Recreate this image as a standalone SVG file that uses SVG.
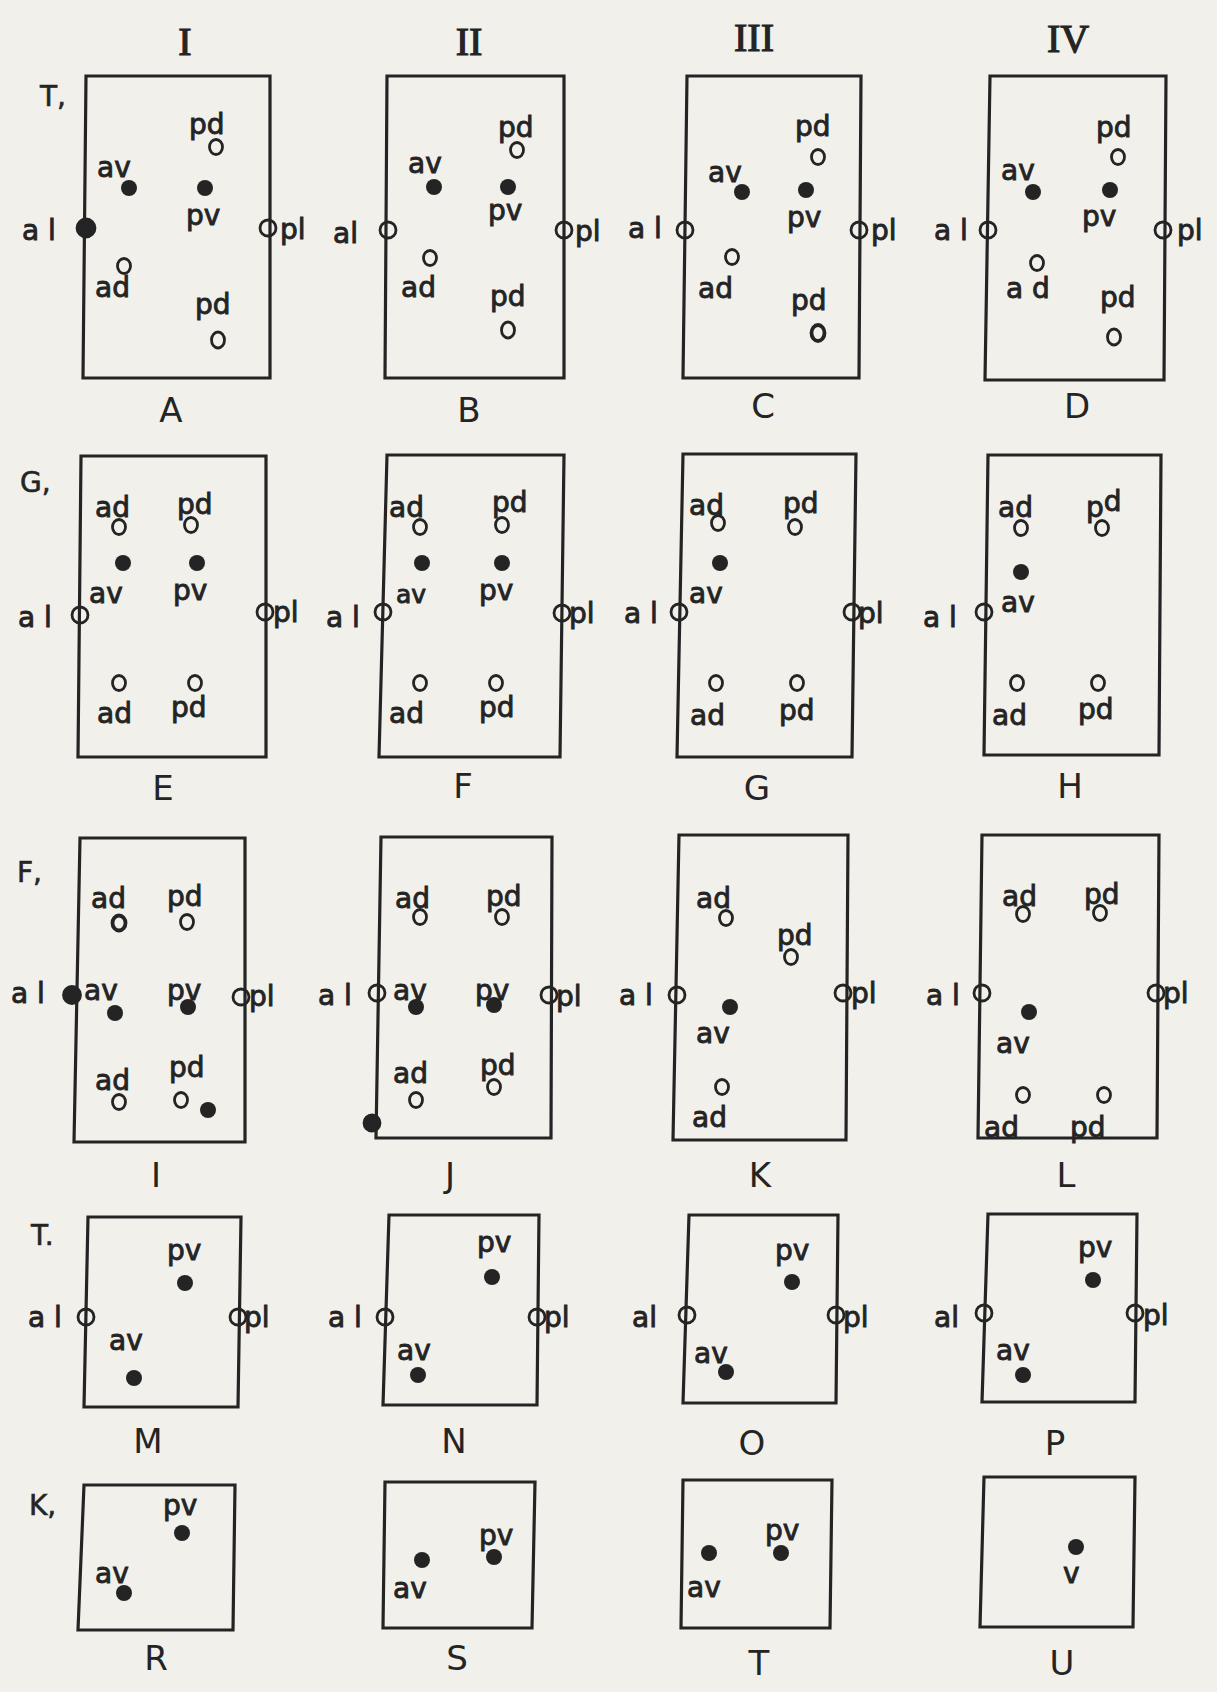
<svg xmlns="http://www.w3.org/2000/svg" width="1217" height="1692" viewBox="0 0 1217 1692">
<style>
.bg{fill:#f1f0eb}
.bx{fill:none;stroke:#242424;stroke-width:3.2;stroke-linejoin:miter}
.dot{fill:#242424}
.o{fill:none;stroke:#242424;stroke-width:2.8}
.ob{fill:none;stroke:#242424;stroke-width:3.8}
.e{fill:none;stroke:#242424;stroke-width:2.8}
.ef{fill:#242424;stroke:#242424;stroke-width:2.8}
.t{font-family:"DejaVu Sans",sans-serif;font-size:28px;fill:#242424;stroke:#242424;stroke-width:0.9}
.ts{font-family:"DejaVu Sans",sans-serif;font-size:25px;fill:#242424;stroke:#242424;stroke-width:0.9}
.lab{font-family:"DejaVu Sans",sans-serif;font-size:34px;fill:#242424;text-anchor:middle}
.row{font-family:"DejaVu Sans",sans-serif;font-size:28px;fill:#242424;stroke:#242424;stroke-width:0.6}
.rn{font-family:"Liberation Serif",serif;font-size:40px;fill:#242424;stroke:#242424;stroke-width:1.2;text-anchor:middle}
</style>
<rect class="bg" x="0" y="0" width="1217" height="1692"/>
<g id="headers">
<text class="rn" x="185" y="55">I</text>
<text class="rn" x="469" y="55">II</text>
<text class="rn" x="754" y="51">III</text>
<text class="rn" x="1068" y="52">IV</text>
<text class="row" x="40" y="106">T,</text>
<text class="row" x="20" y="492">G,</text>
<text class="row" x="17" y="882">F,</text>
<text class="row" x="31" y="1245">T.</text>
<text class="row" x="29" y="1515">K,</text>
</g>
<g id="connectors"></g>

<g id="panel-A">
<path class="bx" d="M86 76 L270 76 L270 378 L83 378 Z"/>
<circle class="ef" cx="86" cy="228" r="9"/>
<text class="t" x="22" y="240">a l</text>
<circle class="e" cx="268" cy="228" r="8"/>
<text class="t" x="280" y="239">pl</text>
<text class="t" x="97" y="177">av</text>
<circle class="dot" cx="129" cy="188" r="8"/>
<circle class="dot" cx="205" cy="188" r="8"/>
<text class="t" x="186" y="225">pv</text>
<text class="t" x="189" y="134">pd</text>
<ellipse class="o" cx="216" cy="147" rx="6.5" ry="7.5"/>
<text class="t" x="95" y="297">ad</text>
<ellipse class="o" cx="124" cy="266" rx="6.5" ry="7.5"/>
<text class="t" x="195" y="314">pd</text>
<ellipse class="o" cx="218" cy="340" rx="6.5" ry="8"/>
<text class="lab" x="171" y="422">A</text>
</g>

<g id="panel-B">
<path class="bx" d="M387 76 L564 76 L564 378 L385 378 Z"/>
<circle class="e" cx="388" cy="230" r="8"/>
<text class="t" x="333" y="243">al</text>
<circle class="e" cx="564" cy="230" r="8"/>
<text class="t" x="575" y="241">pl</text>
<text class="t" x="408" y="173">av</text>
<circle class="dot" cx="434" cy="187" r="8"/>
<circle class="dot" cx="508" cy="187" r="8"/>
<text class="t" x="488" y="220">pv</text>
<text class="t" x="498" y="137">pd</text>
<ellipse class="o" cx="517" cy="150" rx="6.5" ry="7.5"/>
<text class="t" x="401" y="297">ad</text>
<ellipse class="o" cx="430" cy="258" rx="6.5" ry="7.5"/>
<text class="t" x="490" y="306">pd</text>
<ellipse class="o" cx="508" cy="330" rx="6.5" ry="8"/>
<text class="lab" x="469" y="422">B</text>
</g>

<g id="panel-C">
<path class="bx" d="M687 76 L861 76 L859 378 L683 378 Z"/>
<circle class="e" cx="685" cy="230" r="8"/>
<text class="t" x="628" y="238">a l</text>
<circle class="e" cx="859" cy="230" r="8"/>
<text class="t" x="871" y="240">pl</text>
<text class="t" x="708" y="182">av</text>
<circle class="dot" cx="742" cy="192" r="8"/>
<circle class="dot" cx="806" cy="190" r="8"/>
<text class="t" x="787" y="227">pv</text>
<text class="t" x="795" y="136">pd</text>
<ellipse class="o" cx="818" cy="157" rx="6.5" ry="7.5"/>
<text class="t" x="698" y="298">ad</text>
<ellipse class="o" cx="732" cy="257" rx="6.5" ry="7.5"/>
<text class="t" x="791" y="310">pd</text>
<ellipse class="ob" cx="818" cy="333" rx="6.5" ry="8"/>
<text class="lab" x="763" y="418">C</text>
</g>

<g id="panel-D">
<path class="bx" d="M990 76 L1166 76 L1164 380 L985 380 Z"/>
<circle class="e" cx="988" cy="230" r="8"/>
<text class="t" x="934" y="240">a l</text>
<circle class="e" cx="1163" cy="230" r="8"/>
<text class="t" x="1177" y="240">pl</text>
<text class="t" x="1001" y="180">av</text>
<circle class="dot" cx="1033" cy="192" r="8"/>
<circle class="dot" cx="1110" cy="190" r="8"/>
<text class="t" x="1082" y="226">pv</text>
<text class="t" x="1096" y="137">pd</text>
<ellipse class="o" cx="1118" cy="157" rx="6.5" ry="7.5"/>
<text class="t" x="1006" y="298">a d</text>
<ellipse class="o" cx="1037" cy="263" rx="6.5" ry="7.5"/>
<text class="t" x="1100" y="307">pd</text>
<ellipse class="o" cx="1114" cy="337" rx="6.5" ry="8"/>
<text class="lab" x="1077" y="418">D</text>
</g>

<g id="panel-E">
<path class="bx" d="M81 456 L266 456 L266 757 L78 757 Z"/>
<circle class="e" cx="80" cy="615" r="8"/>
<text class="t" x="18" y="627">a l</text>
<circle class="e" cx="265" cy="612" r="8"/>
<text class="t" x="273" y="622">pl</text>
<text class="t" x="95" y="517">ad</text>
<ellipse class="o" cx="119" cy="527" rx="6.5" ry="7.5"/>
<text class="t" x="177" y="514">pd</text>
<ellipse class="o" cx="191" cy="525" rx="6.5" ry="7.5"/>
<circle class="dot" cx="123" cy="563" r="8"/>
<circle class="dot" cx="197" cy="563" r="8"/>
<text class="t" x="89" y="603">av</text>
<text class="t" x="173" y="600">pv</text>
<ellipse class="o" cx="119" cy="683" rx="6.5" ry="7.5"/>
<ellipse class="o" cx="195" cy="683" rx="6.5" ry="7.5"/>
<text class="t" x="97" y="723">ad</text>
<text class="t" x="171" y="717">pd</text>
<text class="lab" x="163" y="800">E</text>
</g>

<g id="panel-F">
<path class="bx" d="M387 455 L564 455 L560 757 L379 757 Z"/>
<circle class="e" cx="383" cy="612" r="8"/>
<text class="t" x="326" y="627">a l</text>
<circle class="e" cx="562" cy="613" r="8"/>
<text class="t" x="569" y="623">pl</text>
<text class="t" x="389" y="517">ad</text>
<ellipse class="o" cx="420" cy="527" rx="6.5" ry="7.5"/>
<text class="t" x="492" y="512">pd</text>
<ellipse class="o" cx="502" cy="525" rx="6.5" ry="7.5"/>
<circle class="dot" cx="422" cy="563" r="8"/>
<circle class="dot" cx="502" cy="563" r="8"/>
<text class="ts" x="396" y="603">av</text>
<text class="t" x="479" y="600">pv</text>
<ellipse class="o" cx="420" cy="683" rx="6.5" ry="7.5"/>
<ellipse class="o" cx="496" cy="683" rx="6.5" ry="7.5"/>
<text class="t" x="389" y="723">ad</text>
<text class="t" x="479" y="717">pd</text>
<text class="lab" x="463" y="798">F</text>
</g>

<g id="panel-G">
<path class="bx" d="M683 454 L856 454 L852 757 L677 757 Z"/>
<circle class="e" cx="679" cy="612" r="8"/>
<text class="t" x="624" y="623">a l</text>
<circle class="e" cx="852" cy="612" r="8"/>
<text class="t" x="858" y="623">pl</text>
<text class="t" x="689" y="515">ad</text>
<ellipse class="o" cx="718" cy="523" rx="6.5" ry="7.5"/>
<text class="t" x="783" y="513">pd</text>
<ellipse class="o" cx="795" cy="527" rx="6.5" ry="7.5"/>
<circle class="dot" cx="720" cy="563" r="8"/>
<text class="t" x="689" y="603">av</text>
<ellipse class="o" cx="716" cy="683" rx="6.5" ry="7.5"/>
<ellipse class="o" cx="797" cy="683" rx="6.5" ry="7.5"/>
<text class="t" x="690" y="725">ad</text>
<text class="t" x="779" y="720">pd</text>
<text class="lab" x="757" y="800">G</text>
</g>

<g id="panel-H">
<path class="bx" d="M988 455 L1161 455 L1159 755 L984 755 Z"/>
<circle class="e" cx="984" cy="612" r="8"/>
<text class="t" x="923" y="627">a l</text>
<text class="t" x="998" y="517">ad</text>
<ellipse class="o" cx="1021" cy="528" rx="6.5" ry="7.5"/>
<text class="t" x="1086" y="517">p<tspan dy="-6">d</tspan></text>
<ellipse class="o" cx="1102" cy="528" rx="6.5" ry="7.5"/>
<circle class="dot" cx="1021" cy="572" r="8"/>
<text class="t" x="1001" y="612">av</text>
<ellipse class="o" cx="1017" cy="683" rx="6.5" ry="7.5"/>
<ellipse class="o" cx="1098" cy="683" rx="6.5" ry="7.5"/>
<text class="t" x="992" y="725">ad</text>
<text class="t" x="1078" y="719">pd</text>
<text class="lab" x="1070" y="798">H</text>
</g>

<g id="panel-I">
<path class="bx" d="M80 838 L245 838 L245 1142 L74 1142 Z"/>
<circle class="ef" cx="72" cy="995" r="8.5"/>
<text class="t" x="11" y="1003">a l</text>
<text class="t" x="84" y="1000">av</text>
<circle class="dot" cx="115" cy="1013" r="8"/>
<text class="t" x="167" y="1000">pv</text>
<circle class="dot" cx="188" cy="1007" r="8"/>
<circle class="e" cx="241" cy="997" r="8"/>
<text class="t" x="249" y="1006">pl</text>
<text class="t" x="91" y="908">ad</text>
<ellipse class="ob" cx="119" cy="923" rx="6.5" ry="7.5"/>
<text class="t" x="167" y="906">pd</text>
<ellipse class="o" cx="187" cy="922" rx="6.5" ry="7.5"/>
<text class="t" x="95" y="1090">ad</text>
<ellipse class="o" cx="119" cy="1102" rx="6.5" ry="7.5"/>
<text class="t" x="169" y="1077">pd</text>
<ellipse class="o" cx="181" cy="1100" rx="6.5" ry="7.5"/>
<circle class="dot" cx="208" cy="1110" r="8"/>
<text class="lab" x="156" y="1187">I</text>
</g>

<g id="panel-J">
<path class="bx" d="M381 837 L552 837 L551 1138 L376 1138 Z"/>
<circle class="e" cx="377" cy="993" r="8"/>
<text class="t" x="318" y="1005">a l</text>
<text class="t" x="393" y="1000">av</text>
<circle class="dot" cx="416" cy="1007" r="8"/>
<text class="t" x="475" y="1000">pv</text>
<circle class="dot" cx="494" cy="1005" r="8"/>
<circle class="e" cx="549" cy="995" r="8"/>
<text class="t" x="556" y="1006">pl</text>
<text class="t" x="395" y="908">ad</text>
<ellipse class="o" cx="420" cy="917" rx="6.5" ry="7.5"/>
<text class="t" x="486" y="906">pd</text>
<ellipse class="o" cx="502" cy="917" rx="6.5" ry="7.5"/>
<text class="t" x="393" y="1083">ad</text>
<ellipse class="o" cx="416" cy="1100" rx="6.5" ry="7.5"/>
<text class="t" x="480" y="1075">pd</text>
<ellipse class="o" cx="494" cy="1087" rx="6.5" ry="7.5"/>
<circle class="ef" cx="372" cy="1123" r="8"/>
<text class="lab" x="450" y="1187">J</text>
</g>

<g id="panel-K">
<path class="bx" d="M679 835 L848 835 L846 1140 L673 1140 Z"/>
<circle class="e" cx="677" cy="995" r="8"/>
<text class="t" x="619" y="1005">a l</text>
<circle class="e" cx="843" cy="993" r="8"/>
<text class="t" x="851" y="1003">pl</text>
<text class="t" x="696" y="908">ad</text>
<ellipse class="o" cx="726" cy="918" rx="6.5" ry="7.5"/>
<text class="t" x="777" y="945">pd</text>
<ellipse class="o" cx="791" cy="957" rx="6.5" ry="7.5"/>
<circle class="dot" cx="730" cy="1007" r="8"/>
<text class="t" x="696" y="1043">av</text>
<ellipse class="o" cx="722" cy="1087" rx="6.5" ry="7.5"/>
<text class="t" x="692" y="1127">ad</text>
<text class="lab" x="760" y="1187">K</text>
</g>

<g id="panel-L">
<path class="bx" d="M982 835 L1159 835 L1157 1138 L978 1138 Z"/>
<circle class="e" cx="982" cy="993" r="8"/>
<text class="t" x="926" y="1005">a l</text>
<circle class="e" cx="1156" cy="993" r="8"/>
<text class="t" x="1163" y="1003">pl</text>
<text class="t" x="1002" y="906">ad</text>
<ellipse class="o" cx="1023" cy="914" rx="6.5" ry="7.5"/>
<text class="t" x="1084" y="904">pd</text>
<ellipse class="o" cx="1100" cy="913" rx="6.5" ry="7.5"/>
<circle class="dot" cx="1029" cy="1012" r="8"/>
<text class="t" x="996" y="1053">av</text>
<text class="t" x="984" y="1137">ad</text>
<ellipse class="o" cx="1023" cy="1095" rx="6.5" ry="7.5"/>
<text class="t" x="1070" y="1137">pd</text>
<ellipse class="o" cx="1104" cy="1095" rx="6.5" ry="7.5"/>
<text class="lab" x="1066" y="1187">L</text>
</g>

<g id="panel-M">
<path class="bx" d="M88 1217 L241 1217 L238 1407 L84 1407 Z"/>
<circle class="e" cx="86" cy="1317" r="8"/>
<text class="t" x="28" y="1327">a l</text>
<circle class="e" cx="238" cy="1317" r="8"/>
<text class="t" x="244" y="1327">pl</text>
<text class="t" x="167" y="1260">pv</text>
<circle class="dot" cx="185" cy="1283" r="8"/>
<text class="t" x="109" y="1350">av</text>
<circle class="dot" cx="134" cy="1378" r="8"/>
<text class="lab" x="148" y="1453">M</text>
</g>

<g id="panel-N">
<path class="bx" d="M389 1215 L539 1215 L537 1405 L383 1405 Z"/>
<circle class="e" cx="385" cy="1317" r="8"/>
<text class="t" x="328" y="1327">a l</text>
<circle class="e" cx="537" cy="1317" r="8"/>
<text class="t" x="544" y="1327">pl</text>
<text class="t" x="477" y="1252">pv</text>
<circle class="dot" cx="492" cy="1277" r="8"/>
<text class="t" x="397" y="1360">av</text>
<circle class="dot" cx="418" cy="1375" r="8"/>
<text class="lab" x="454" y="1453">N</text>
</g>

<g id="panel-O">
<path class="bx" d="M689 1215 L838 1215 L836 1403 L683 1403 Z"/>
<circle class="e" cx="687" cy="1315" r="8"/>
<text class="t" x="632" y="1327">al</text>
<circle class="e" cx="836" cy="1315" r="8"/>
<text class="t" x="843" y="1327">pl</text>
<text class="t" x="775" y="1260">pv</text>
<circle class="dot" cx="792" cy="1282" r="8"/>
<text class="t" x="694" y="1363">av</text>
<circle class="dot" cx="726" cy="1372" r="8"/>
<text class="lab" x="752" y="1455">O</text>
</g>

<g id="panel-P">
<path class="bx" d="M988 1214 L1137 1214 L1135 1402 L982 1402 Z"/>
<circle class="e" cx="984" cy="1313" r="8"/>
<text class="t" x="934" y="1327">al</text>
<circle class="e" cx="1135" cy="1313" r="8"/>
<text class="t" x="1143" y="1325">pl</text>
<text class="t" x="1078" y="1257">pv</text>
<circle class="dot" cx="1093" cy="1280" r="8"/>
<text class="t" x="996" y="1360">av</text>
<circle class="dot" cx="1023" cy="1375" r="8"/>
<text class="lab" x="1055" y="1455">P</text>
</g>

<g id="panel-R">
<path class="bx" d="M84 1485 L235 1485 L233 1630 L78 1630 Z"/>
<text class="t" x="163" y="1515">pv</text>
<circle class="dot" cx="182" cy="1533" r="8"/>
<text class="t" x="95" y="1583">av</text>
<circle class="dot" cx="124" cy="1593" r="8"/>
<text class="lab" x="156" y="1670">R</text>
</g>

<g id="panel-S">
<path class="bx" d="M385 1482 L535 1482 L532 1628 L383 1628 Z"/>
<circle class="dot" cx="422" cy="1560" r="8"/>
<text class="t" x="393" y="1598">av</text>
<text class="t" x="479" y="1545">pv</text>
<circle class="dot" cx="494" cy="1557" r="8"/>
<text class="lab" x="457" y="1670">S</text>
</g>

<g id="panel-T">
<path class="bx" d="M683 1480 L832 1480 L830 1628 L681 1628 Z"/>
<circle class="dot" cx="709" cy="1553" r="8"/>
<text class="t" x="687" y="1597">av</text>
<text class="t" x="765" y="1540">pv</text>
<circle class="dot" cx="781" cy="1553" r="8"/>
<text class="lab" x="759" y="1675">T</text>
</g>

<g id="panel-U">
<path class="bx" d="M984 1477 L1135 1477 L1133 1627 L980 1627 Z"/>
<circle class="dot" cx="1076" cy="1547" r="8"/>
<text class="t" x="1063" y="1583">v</text>
<text class="lab" x="1062" y="1675">U</text>
</g>
</svg>
